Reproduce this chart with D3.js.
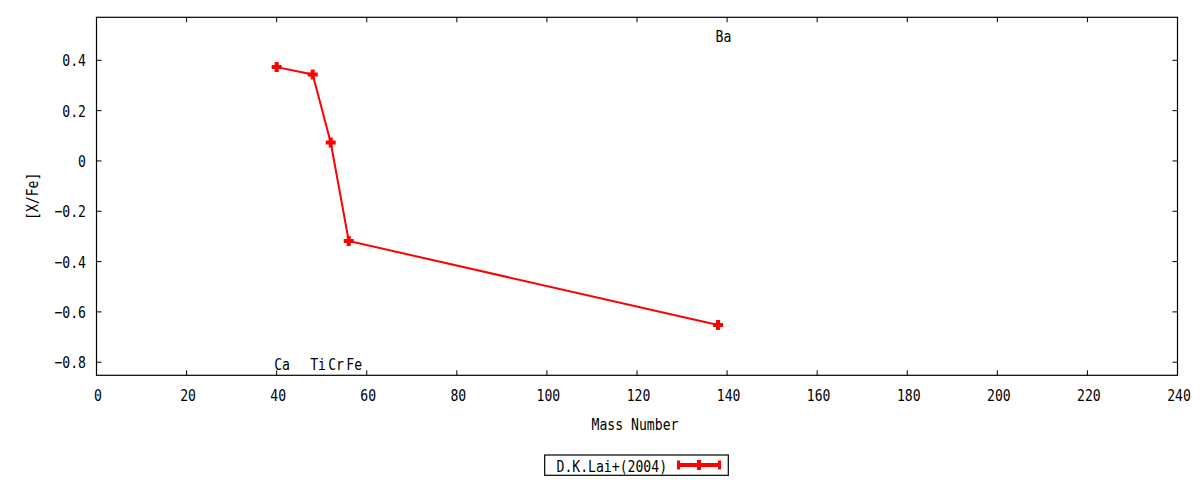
<!DOCTYPE html>
<html><head><meta charset="utf-8">
<script src="https://cdn.jsdelivr.net/npm/d3@7"></script>
<style>
body{margin:0;background:#fff;}
text{font-family:"DejaVu Sans Mono",monospace;font-size:16px;fill:#000;}
</style></head>
<body>
<svg id="c" width="1200" height="480"></svg>
<script>
// data
const elements = ["Ca","Ti","Cr","Fe","Ba"];
const massNumbers = [40, 48, 52, 56, 138];
const xfeValues = [0.373, 0.344, 0.073, -0.318, -0.652];
const labelY = [-0.807, -0.807, -0.807, -0.807, 0.496];
const xTicks = [0,20,40,60,80,100,120,140,160,180,200,220,240];
const yTicks = [-0.8,-0.6,-0.4,-0.2,0,0.2,0.4];
const seriesName = "D.K.Lai+(2004)";

const svg = d3.select("#c");
const L=96.5, R=1177.5, T=17.3, B=375.3;
const x = d3.scaleLinear().domain([0,240]).range([L,R]);
const y = d3.scaleLinear().domain([-0.852,0.571]).range([B,T]);
const SX=0.82;

function txt(px,py,s,anchor,rot){
  const g = svg.append("g").attr("transform",`translate(${px},${py})`+(rot?` rotate(${rot})`:"")+` scale(${SX},1)`);
  g.append("text").attr("text-anchor",anchor||"start").attr("dominant-baseline","central").text(s);
}

// frame
svg.append("rect").attr("x",L).attr("y",T).attr("width",R-L).attr("height",B-T)
  .attr("fill","none").attr("stroke","#000").attr("stroke-width",1.2);

const tl=5;
const fmtY = v => v===0 ? "0" : d3.format(".1f")(v);
xTicks.forEach(v=>{
  const px=x(v);
  svg.append("line").attr("x1",px).attr("x2",px).attr("y1",B).attr("y2",B-tl).attr("stroke","#000");
  svg.append("line").attr("x1",px).attr("x2",px).attr("y1",T).attr("y2",T+tl).attr("stroke","#000");
  txt(px+1.5,394.5,String(v),"middle");
});
yTicks.forEach(v=>{
  const py=y(v);
  svg.append("line").attr("x1",L).attr("x2",L+tl).attr("y1",py).attr("y2",py).attr("stroke","#000");
  svg.append("line").attr("x1",R).attr("x2",R-tl).attr("y1",py).attr("y2",py).attr("stroke","#000");
  txt(86,py,fmtY(v),"end");
});

// axis titles
txt((L+R)/2-2,424,"Mass Number","middle");
txt(32,(T+B)/2,"[X/Fe]","middle",-90);

// element labels
elements.forEach((e,i)=>{ txt(x(massNumbers[i])-2.5,y(labelY[i]),e,"start"); });

// line
const pts = massNumbers.map((m,i)=>[m,xfeValues[i]]);
svg.append("path").datum(pts)
  .attr("d",d3.line().x(d=>x(d[0])).y(d=>y(d[1])))
  .attr("fill","none").attr("stroke","#ff0000").attr("stroke-width",2);

function plus(cx,cy,s,w){
  svg.append("path").attr("d",`M${cx-s},${cy}H${cx+s}M${cx},${cy-s}V${cy+s}`)
    .attr("stroke","#ff0000").attr("stroke-width",w).attr("fill","none");
}
pts.forEach(d=>plus(x(d[0]),y(d[1]),5,4));

// legend
svg.append("rect").attr("x",544.7).attr("y",455).attr("width",183.6).attr("height",20.3)
  .attr("fill","#fff").attr("stroke","#000").attr("stroke-width",1.2);
txt(556.5,465.5,seriesName,"start");
svg.append("line").attr("x1",678).attr("x2",720).attr("y1",465).attr("y2",465)
  .attr("stroke","#ff0000").attr("stroke-width",4);
[678.5,719.5].forEach(cx=>svg.append("line").attr("x1",cx).attr("x2",cx).attr("y1",460.5).attr("y2",469.5)
  .attr("stroke","#ff0000").attr("stroke-width",3));
plus(699,465,5,4);
</script>
</body></html>
